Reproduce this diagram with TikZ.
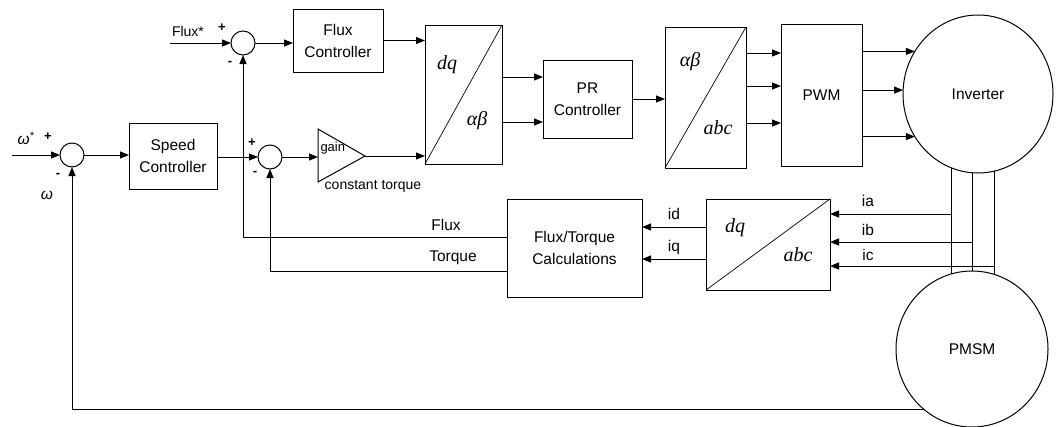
\documentclass[tikz,border=0pt]{standalone}
\usepackage{fontspec}
\setmainfont{Liberation Sans}
\newfontfamily\mathlike{Liberation Serif}
\usetikzlibrary{arrows.meta,shapes.geometric}
\begin{document}
\begin{tikzpicture}[x=1pt,y=-1pt,
  line width=1pt,
  every node/.style={font=\fontsize{15.5}{22}\selectfont},
  blk/.style={draw, rectangle, align=center, inner sep=0pt, outer sep=0pt},
  sumc/.style={draw, circle, minimum size=24pt, inner sep=0pt, outer sep=0pt},
  bigc/.style={draw, ellipse, inner sep=0pt, outer sep=0pt},
  arr/.style={-{Triangle[length=9pt,width=7pt]}},
  lbl/.style={inner sep=0pt},
  sgn/.style={inner sep=0pt, font=\fontsize{13}{13}\selectfont\bfseries},
  mth/.style={inner sep=0pt, font=\mathlike\itshape\fontsize{20}{20}\selectfont},
  diag/.style={line width=0.7pt}]
\useasboundingbox (0,0) rectangle (1060,426);

% blocks
\node[sumc] (s1) at (243,43) {};
\node[sumc] (s2) at (72,155) {};
\node[sumc] (s3) at (270,157) {};
\node[blk, minimum width=90pt, minimum height=63pt] (fluxc) at (338,40.5) {Flux\\Controller};
\node[blk, minimum width=88pt, minimum height=66pt] (speedc) at (173,156) {Speed\\Controller};
\node[blk, minimum width=77pt, minimum height=139pt] (dqab) at (463.5,94.5) {};
\node[blk, minimum width=89pt, minimum height=78pt] (prc) at (587.5,99) {PR\\Controller};
\node[blk, minimum width=81pt, minimum height=141pt] (abab) at (705.5,97.5) {};
\node[blk, minimum width=81pt, minimum height=142pt] (pwm) at (821.5,95) {PWM};
\node[blk, minimum width=135pt, minimum height=98pt] (ft) at (574.5,248) {Flux/Torque\\Calculations};
\node[blk, minimum width=124pt, minimum height=91pt] (dqabc) at (768,244.5) {};
\node[bigc, minimum width=150pt, minimum height=158pt] (inv) at (978,94) {Inverter};
\node[bigc, minimum width=152pt, minimum height=156pt] (pmsm) at (972,349) {PMSM};

% transformation diagonals and labels
\draw[diag] (dqab.south west) -- (dqab.north east);
\draw[diag] (abab.south west) -- (abab.north east);
\draw[diag] (dqabc.south west) -- (dqabc.north east);
\node[mth] (t1) at (447,65) {dq};
\node[mth] (t2) at (477,121) {αβ};
\node[mth] (t3) at (690,62) {αβ};
\node[mth] (t4) at (718,128) {abc};
\node[mth] (t5) at (735,228) {dq};
\node[mth] (t6) at (798,255) {abc};

% gain triangle
\coordinate (g1) at (318,129);
\coordinate (gtip) at (365,156);
\coordinate (g2) at (318,182);
\coordinate (gin) at (318,157);
\draw (g1) -- (gtip) -- (g2) -- cycle;
\node[lbl, anchor=west, font=\fontsize{13}{13}\selectfont] (gaint) at (320,148) {gain};
\node[lbl, font=\fontsize{14}{14}\selectfont] (ctq) at (373,186) {constant torque};

% inputs
\coordinate (fin) at (170,43);
\coordinate (win) at (12,155);
\draw[arr] (fin) -- (s1.west);
\draw[arr] (win) -- (s2.west);
\node[lbl, font=\fontsize{14}{14}\selectfont] (fluxstar) at (188,31) {Flux*};
\node[sgn] (p1) at (222,28) {+};
\node[sgn] (m1) at (230,63) {-};
\node[lbl] (wstar) at (26,138) {\itshape ω\textsuperscript{*}};
\node[sgn] (p2) at (48,137) {+};
\node[sgn] (m2) at (58,175) {-};
\node[lbl] (wfb) at (47,195) {\itshape ω};
\node[sgn] (p3) at (252,143) {+};
\node[sgn] (m3) at (255,173) {-};

% forward path
\draw[arr] (s1.east) -- (s1.east -| fluxc.west);
\draw[arr] (s2.east) -- (s2.east -| speedc.west);
\draw[arr] (speedc.east |- s3.west) -- (s3.west);
\draw[arr] (s3.east) -- (gin);
\draw[arr] (gtip) -- (gtip -| dqab.west);
\draw[arr] (fluxc.east) -- (fluxc.east -| dqab.west);

\coordinate (y1) at (0,77);
\coordinate (y2) at (0,122);
\draw[arr] (dqab.east |- y1) -- (prc.west |- y1);
\draw[arr] (dqab.east |- y2) -- (prc.west |- y2);
\draw[arr] (prc.east) -- (prc.east -| abab.west);

\coordinate (y3) at (0,53);
\coordinate (y4) at (0,86);
\coordinate (y5) at (0,123);
\draw[arr] (abab.east |- y3) -- (pwm.west |- y3);
\draw[arr] (abab.east |- y4) -- (pwm.west |- y4);
\draw[arr] (abab.east |- y5) -- (pwm.west |- y5);

\draw[arr] (pwm.east |- inv.146) -- (inv.146);
\draw[arr] (pwm.east |- inv.177) -- (inv.177);
\draw[arr] (pwm.east |- inv.-146) -- (inv.-146);

% wires inverter - motor
\draw (inv.-110) -- (inv.-110 |- pmsm.106);
\draw (inv.-94) -- (inv.-94 |- pmsm.89);
\draw (inv.-78) -- (inv.-78 |- pmsm.74);

% current measurements
\coordinate (ya) at (0,214);
\coordinate (yb) at (0,242);
\coordinate (yc) at (0,266);
\draw[arr] (inv.-110 |- ya) -- (dqabc.east |- ya);
\draw[arr] (inv.-94 |- yb) -- (dqabc.east |- yb);
\draw[arr] (inv.-78 |- yc) -- (dqabc.east |- yc);
\node[lbl] (la) at (868,201) {ia};
\node[lbl] (lb) at (868,230) {ib};
\node[lbl] (lc) at (868,255) {ic};

\coordinate (yid) at (0,227);
\coordinate (yiq) at (0,259);
\draw[arr] (dqabc.west |- yid) -- (ft.east |- yid);
\draw[arr] (dqabc.west |- yiq) -- (ft.east |- yiq);
\node[lbl] (lid) at (674,214) {id};
\node[lbl] (liq) at (674,247) {iq};

% feedback
\coordinate (yfl) at (0,237);
\coordinate (ytq) at (0,271);
\draw[arr] (ft.west |- yfl) -| (s1.south);
\draw[arr] (ft.west |- ytq) -| (s3.south);
\node[lbl] (lfl) at (446,225) {Flux};
\node[lbl] (ltq) at (453,258) {Torque};
\draw[arr] (pmsm.232) -| (s2.south);
\end{tikzpicture}
\end{document}
